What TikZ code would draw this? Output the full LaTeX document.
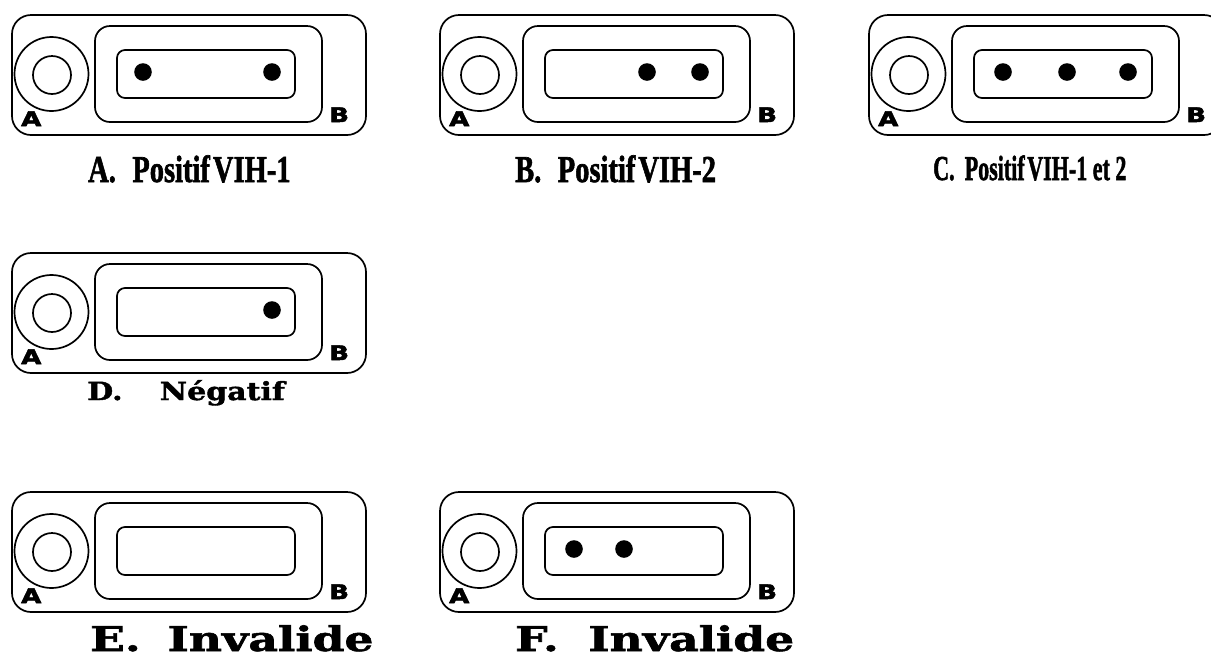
\documentclass[tikz,border=0pt]{standalone}
\usepackage{fontspec}
\newfontfamily\labfont[BoldFeatures={FakeBold=2.5}]{DejaVu Sans}
\newfontfamily\capsfont[BoldFeatures={FakeBold=1.8}]{Liberation Serif}
\newfontfamily\slabfont[BoldFeatures={FakeBold=1.5}]{DejaVu Serif}
\tikzset{
  frame/.style={line width=1.7pt},
  lbl/.style={inner sep=0pt, anchor=base west, font=\labfont\bfseries\fontsize{20}{20}\selectfont},
  capT/.style={inner sep=0pt, anchor=base west, font=\capsfont\bfseries\fontsize{38}{38}\selectfont},
  capS/.style={inner sep=0pt, anchor=base west, font=\capsfont\bfseries\fontsize{35}{35}\selectfont},
  capW/.style={inner sep=0pt, anchor=base west, font=\slabfont\bfseries\fontsize{#1}{#1}\selectfont},
  pin/.style={fill=black},
}
\newcommand\hivcard[3]{%
  \begin{scope}[shift={(#2,#3)}]
    \draw[frame, rounded corners=19pt] (0,0) rectangle (354,120);
    \draw[frame] (39.5,59) circle[radius=37pt];
    \draw[frame] (40,60) circle[radius=19pt];
    \draw[frame, rounded corners=15pt] (83,11) rectangle (310,107);
    \draw[frame, rounded corners=8pt] (105,35) rectangle (283,83);
    \node[lbl] (#1la) at (9,111) {\scalebox{1.3}[1]{A}};
    \node[lbl] (#1lb) at (317,107) {\scalebox{1.3}[1]{B}};
  \end{scope}}
\begin{document}
\begin{tikzpicture}[x=1pt,y=-1pt]
  \useasboundingbox (0,0) rectangle (1211,657);
  % cards
  \hivcard{a}{12}{15}
  \hivcard{b}{440}{15}
  \hivcard{c}{869}{15}
  \hivcard{d}{12}{253}
  \hivcard{e}{12}{492}
  \hivcard{f}{440}{492}
  % pins
  \fill[pin] (143,72) circle[radius=8.8pt] (272,72) circle[radius=8.8pt];
  \fill[pin] (647,72) circle[radius=8.8pt] (700,72) circle[radius=8.8pt];
  \fill[pin] (1003,72) circle[radius=8.8pt] (1067,72) circle[radius=8.8pt] (1128,72) circle[radius=8.8pt];
  \fill[pin] (272,310) circle[radius=8.8pt];
  \fill[pin] (574,549) circle[radius=8.8pt] (624,549) circle[radius=8.8pt];
  % captions
  \node[capT] (capa) at (88,182) {\scalebox{0.75}[1]{A.\hspace{22pt}Positif\hspace{4pt}VIH-1}};
  \node[capT] (capb) at (515,182) {\scalebox{0.75}[1]{B.\hspace{22pt}Positif\hspace{4pt}VIH-2}};
  \node[capS] (capc) at (933,180) {\scalebox{0.63}[1]{C.\hspace{16pt}Positif\hspace{4pt}VIH-1 et 2}};
  \node[capW=25] (capd) at (87,400) {\scalebox{1.2}[1]{D.\hspace{31pt}Négatif}};
  \node[capW=34] (cape) at (90,651) {\scalebox{1.34}[1]{E.\hspace{20pt}Invalide}};
  \node[capW=34] (capf) at (515,651) {\scalebox{1.34}[1]{F.\hspace{22pt}Invalide}};
\end{tikzpicture}
\end{document}
